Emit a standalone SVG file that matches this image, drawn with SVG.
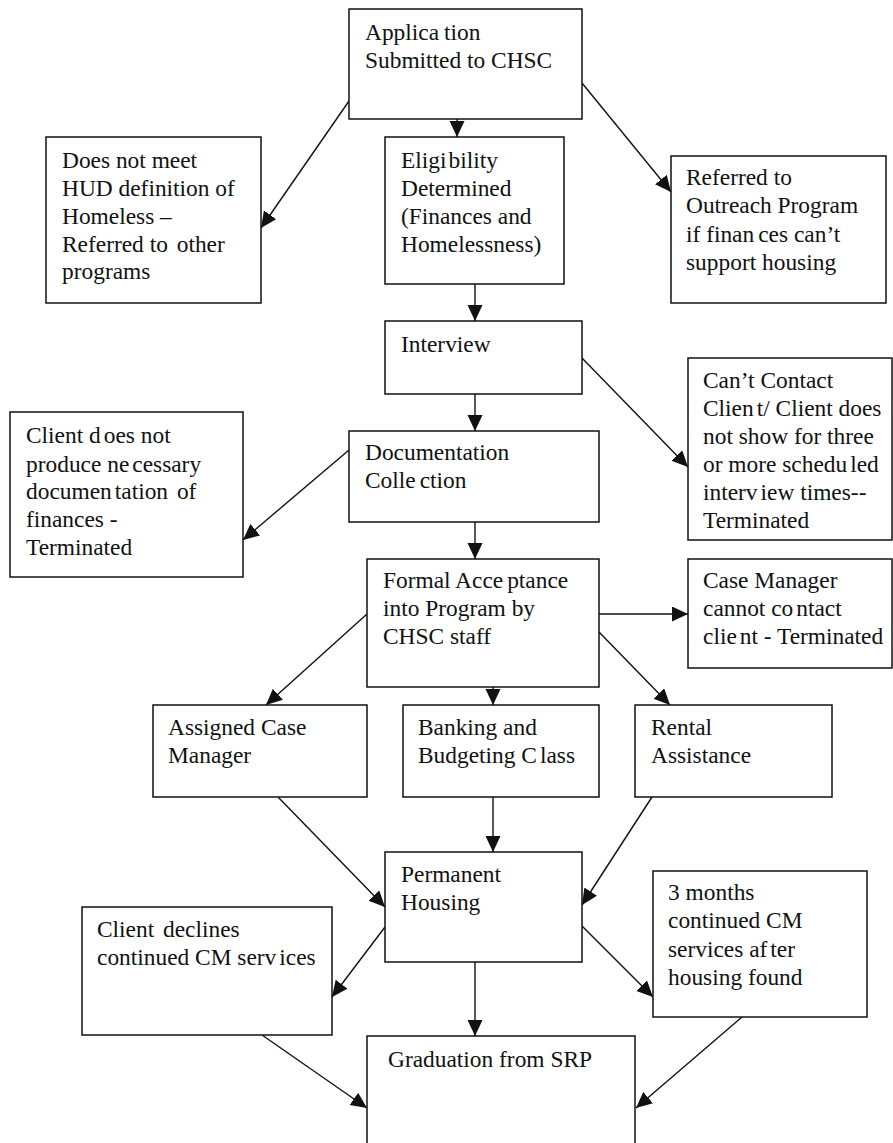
<svg xmlns="http://www.w3.org/2000/svg" width="893" height="1143" viewBox="0 0 893 1143">
<style>
.box{fill:#fff;stroke:#111;stroke-width:1.5}
.t{font-family:"Liberation Serif","Times New Roman",serif;font-size:23.4px;fill:#111}
.c{stroke:#111;stroke-width:1.4;fill:none;marker-end:url(#ah)}
</style>
<defs>
<marker id="ah" markerUnits="userSpaceOnUse" markerWidth="18" markerHeight="16" refX="16" refY="7.5" orient="auto">
<path d="M0,0 L16,7.5 L0,15 z" fill="#111"/>
</marker>
</defs>
<rect width="893" height="1143" fill="#fff"/>
<g id="connectors">
<line class="c" x1="457" y1="119" x2="457" y2="137"/>
<line class="c" x1="349" y1="101" x2="261" y2="228"/>
<line class="c" x1="582" y1="83" x2="671" y2="192"/>
<line class="c" x1="475" y1="284" x2="475" y2="321"/>
<line class="c" x1="475" y1="394" x2="475" y2="431"/>
<line class="c" x1="582" y1="358" x2="688" y2="467"/>
<line class="c" x1="349" y1="450" x2="243" y2="540"/>
<line class="c" x1="475" y1="522" x2="475" y2="559"/>
<line class="c" x1="599" y1="614" x2="688" y2="614"/>
<line class="c" x1="367" y1="614" x2="266" y2="705"/>
<line class="c" x1="493" y1="687" x2="493" y2="705"/>
<line class="c" x1="599" y1="632" x2="670" y2="705"/>
<line class="c" x1="278" y1="797" x2="385" y2="907"/>
<line class="c" x1="493" y1="797" x2="493" y2="852"/>
<line class="c" x1="652" y1="797" x2="582" y2="905"/>
<line class="c" x1="385" y1="927" x2="332" y2="997"/>
<line class="c" x1="475" y1="962" x2="475" y2="1036"/>
<line class="c" x1="582" y1="926" x2="653" y2="997"/>
<line class="c" x1="262" y1="1035" x2="367" y2="1108"/>
<line class="c" x1="742" y1="1017" x2="636" y2="1108"/>
</g>
<g id="application">
<rect class="box" x="349" y="9" width="233" height="110"/>
<text class="t"><tspan x="365" y="40">Applica<tspan dx="5">tion</tspan></tspan><tspan x="365" y="68">Submitted to CHSC</tspan></text>
</g>
<g id="not-homeless">
<rect class="box" x="46" y="137" width="215" height="166"/>
<text class="t"><tspan x="62" y="168">Does not meet</tspan><tspan x="62" y="196">HUD definition of</tspan><tspan x="62" y="223.5">Homeless –</tspan><tspan x="62" y="251.5">Referred to <tspan dx="3">other</tspan></tspan><tspan x="62" y="279">programs</tspan></text>
</g>
<g id="eligibility">
<rect class="box" x="385" y="137" width="179" height="147"/>
<text class="t"><tspan x="401" y="168">Eligi<tspan dx="2">bility</tspan></tspan><tspan x="401" y="196">Determined</tspan><tspan x="401" y="223.5">(Finances and</tspan><tspan x="401" y="251.5">Homelessness)</tspan></text>
</g>
<g id="outreach">
<rect class="box" x="671" y="156" width="215" height="147"/>
<text class="t"><tspan x="686" y="185">Referred to</tspan><tspan x="686" y="213">Outreach Program</tspan><tspan x="686" y="241.5">if finan<tspan dx="4">ces can’t</tspan></tspan><tspan x="686" y="269.5">support housing</tspan></text>
</g>
<g id="interview">
<rect class="box" x="385" y="321" width="197" height="73"/>
<text class="t"><tspan x="401" y="352">Interview</tspan></text>
</g>
<g id="no-documentation">
<rect class="box" x="10" y="412" width="233" height="165"/>
<text class="t"><tspan x="26" y="443">Client d<tspan dx="3">oes not</tspan></tspan><tspan x="26" y="471.5">produce ne<tspan dx="3">cessary</tspan></tspan><tspan x="26" y="499">documen<tspan dx="3">tation <tspan dx="3">of</tspan></tspan></tspan><tspan x="26" y="527">finances -</tspan><tspan x="26" y="555">Terminated</tspan></text>
</g>
<g id="documentation">
<rect class="box" x="349" y="431" width="250" height="91"/>
<text class="t"><tspan x="365" y="460">Documentation</tspan><tspan x="365" y="488">Colle<tspan dx="4">ction</tspan></tspan></text>
</g>
<g id="cant-contact">
<rect class="box" x="688" y="358" width="204" height="182"/>
<text class="t"><tspan x="703" y="387.5">Can’t Contact</tspan><tspan x="703" y="415.5">Clien<tspan dx="3">t/ Client does</tspan></tspan><tspan x="703" y="443.5">not show for three</tspan><tspan x="703" y="471.5">or more schedu<tspan dx="3">led</tspan></tspan><tspan x="703" y="499.5">interv<tspan dx="3">iew times--</tspan></tspan><tspan x="703" y="527.5">Terminated</tspan></text>
</g>
<g id="formal-acceptance">
<rect class="box" x="367" y="559" width="232" height="128"/>
<text class="t"><tspan x="383" y="588">Formal Acce<tspan dx="4">ptance</tspan></tspan><tspan x="383" y="616">into Program by</tspan><tspan x="383" y="643.5">CHSC staff</tspan></text>
</g>
<g id="cm-cannot-contact">
<rect class="box" x="688" y="559" width="204" height="109"/>
<text class="t"><tspan x="703" y="588">Case Manager</tspan><tspan x="703" y="616">cannot co<tspan dx="3">ntact</tspan></tspan><tspan x="703" y="643.5">clie<tspan dx="3">nt - Terminated</tspan></tspan></text>
</g>
<g id="assigned-cm">
<rect class="box" x="153" y="705" width="214" height="92"/>
<text class="t"><tspan x="168" y="735">Assigned Case</tspan><tspan x="168" y="762.5">Manager</tspan></text>
</g>
<g id="banking">
<rect class="box" x="403" y="705" width="196" height="92"/>
<text class="t"><tspan x="418" y="735">Banking and</tspan><tspan x="418" y="762.5">Budgeting C<tspan dx="3">lass</tspan></tspan></text>
</g>
<g id="rental">
<rect class="box" x="635" y="705" width="197" height="92"/>
<text class="t"><tspan x="651" y="735">Rental</tspan><tspan x="651" y="762.5">Assistance</tspan></text>
</g>
<g id="permanent-housing">
<rect class="box" x="385" y="852" width="197" height="110"/>
<text class="t"><tspan x="401" y="882">Permanent</tspan><tspan x="401" y="910">Housing</tspan></text>
</g>
<g id="client-declines">
<rect class="box" x="82" y="907" width="250" height="128"/>
<text class="t"><tspan x="97" y="937">Client <tspan dx="3">declines</tspan></tspan><tspan x="97" y="965">continued CM serv<tspan dx="3">ices</tspan></tspan></text>
</g>
<g id="three-months">
<rect class="box" x="653" y="871" width="214" height="146"/>
<text class="t"><tspan x="668" y="900">3 months</tspan><tspan x="668" y="928">continued CM</tspan><tspan x="668" y="956.5">services af<tspan dx="3">ter</tspan></tspan><tspan x="668" y="984.5">housing found</tspan></text>
</g>
<g id="graduation">
<rect class="box" x="367" y="1036" width="268" height="130"/>
<text class="t"><tspan x="388" y="1067">Graduation from SRP</tspan></text>
</g>
</svg>
